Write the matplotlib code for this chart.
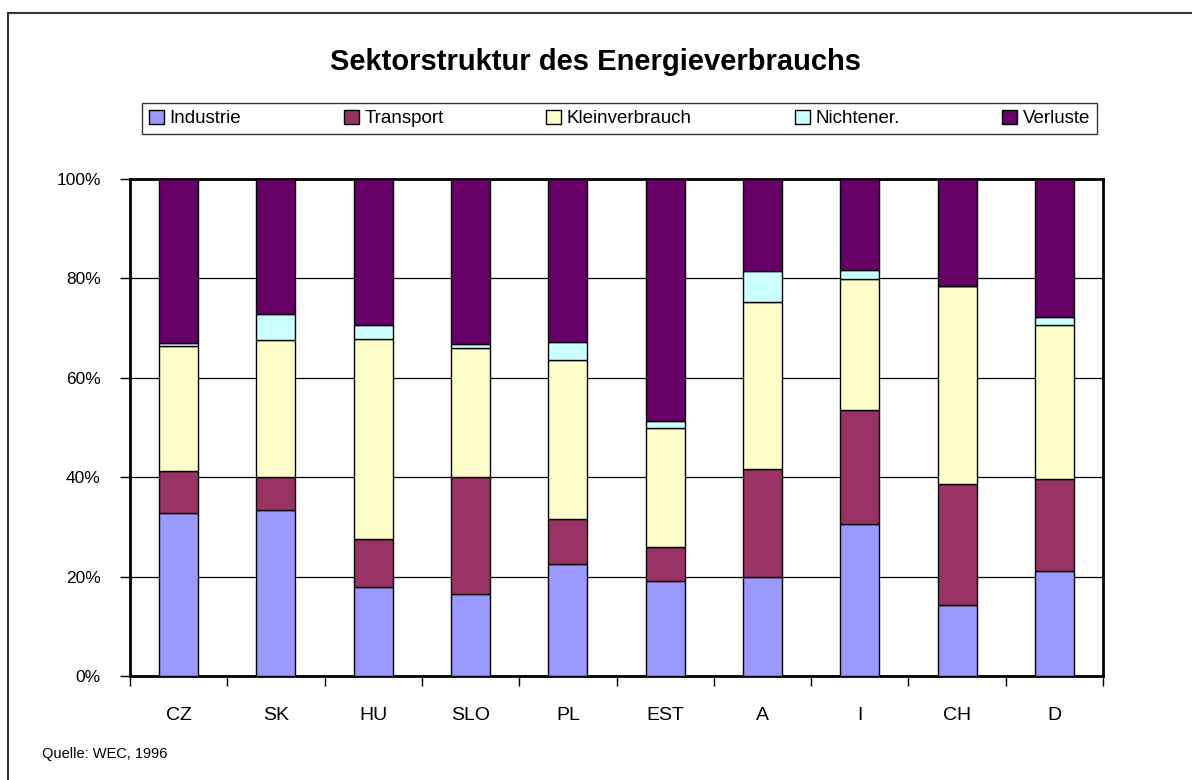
import numpy as np
import matplotlib
matplotlib.use("Agg")
from matplotlib import pyplot as plt
from matplotlib.lines import Line2D

plt.rcParams['font.family'] = ['Liberation Sans', 'DejaVu Sans']

# data (shares in %)
countries = ['CZ', 'SK', 'HU', 'SLO', 'PL', 'EST', 'A', 'I', 'CH', 'D']
industrie = [32.7, 33.3, 18.0, 16.5, 22.5, 19.1, 19.9, 30.6, 14.2, 21.2]
transport = [8.5, 6.7, 9.5, 23.5, 9.0, 6.8, 21.7, 23.0, 24.4, 18.4]
kleinverbrauch = [25.2, 27.6, 40.3, 25.9, 32.0, 24.1, 33.6, 26.3, 39.8, 31.0]
nichtener = [0.6, 5.3, 2.8, 0.9, 3.7, 1.4, 6.3, 1.8, 0.0, 1.7]
verluste = [33.0, 27.1, 29.4, 33.2, 32.8, 48.6, 18.5, 18.3, 21.6, 27.7]

series = [
    ('Industrie', industrie, '#9999FF'),
    ('Transport', transport, '#993366'),
    ('Kleinverbrauch', kleinverbrauch, '#FFFFCC'),
    ('Nichtener.', nichtener, '#CCFFFF'),
    ('Verluste', verluste, '#660066'),
]

fig = plt.figure(figsize=(11.92, 7.8), dpi=100)
ax = fig.add_axes([130/1192, 1-676/780, (1103-130)/1192, (676-179)/780])

x = np.arange(len(countries))
bottom = np.zeros(len(countries))
for name, vals, col in series:
    vals = np.array(vals)
    ax.bar(x, vals, 0.4, bottom=bottom, color=col, edgecolor='black',
           linewidth=1, label=name, zorder=3)
    bottom += vals

# Set bounds
ax.set_xlim(-0.5, len(countries)-0.5)
ax.set_ylim(0, 100)
ax.set_yticks([0, 20, 40, 60, 80, 100])
ax.set_yticklabels(['0%', '20%', '40%', '60%', '80%', '100%'], fontsize=12.5)
ax.yaxis.grid(True, color='black', linewidth=0.9, zorder=0)
ax.set_xticks(x)
ax.set_xticklabels(countries, fontsize=14)
ax.set_xticks(np.arange(-0.5, len(countries)), minor=True)
ax.tick_params(axis='x', which='major', length=0, pad=22)
ax.tick_params(axis='x', which='minor', length=7, width=1, direction='out')
ax.tick_params(axis='y', length=7, width=1, direction='out', pad=14)
for s in ax.spines.values():
    s.set_linewidth(2)
    s.set_color('black')

# title and legend
fig.text(0.5, 1-62/780, 'Sektorstruktur des Energieverbrauchs',
         ha='center', va='center', fontsize=21, fontweight='bold')
leg = fig.legend(loc='lower left', ncol=5, mode='expand',
                 bbox_to_anchor=(142/1192, 1-134/780, (1097-142)/1192, 29/780),
                 fontsize=13.5, frameon=True, fancybox=False, edgecolor='black',
                 handlelength=0.8, handleheight=0.8, handletextpad=0.3,
                 borderpad=0.35, borderaxespad=0)
leg.get_frame().set_linewidth(1)
for h in leg.legend_handles:
    h.set_linewidth(1)

fig.text(42/1192, 1-754/780, 'Quelle: WEC, 1996', ha='left', va='center', fontsize=10.5)

# outer frame (left and top edges only visible)
fig.add_artist(Line2D([8/1192, 8/1192], [0, 1-13/780], color='#333333', lw=1.5,
                      transform=fig.transFigure))
fig.add_artist(Line2D([8/1192, 1], [1-13/780, 1-13/780], color='#333333', lw=1.5,
                      transform=fig.transFigure))

plt.savefig('out.png', dpi=100)
